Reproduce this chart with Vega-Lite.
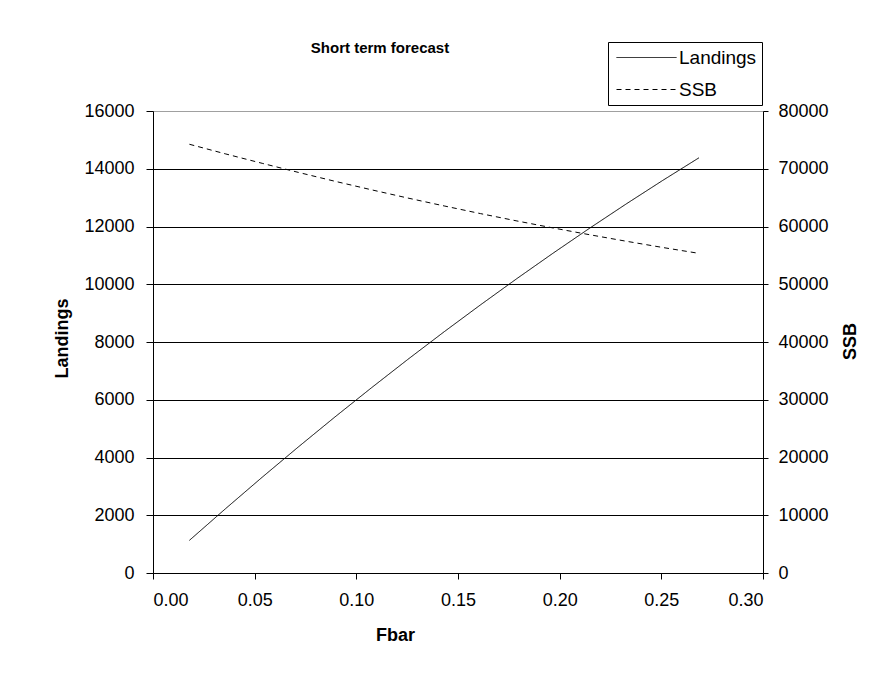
{
  "$schema": "https://vega.github.io/schema/vega-lite/v6.json",
  "width": 610,
  "height": 462,
  "autosize": {"type": "none"},
  "padding": {"left": 153, "top": 111, "right": 114, "bottom": 104},
  "background": "white",
  "title": {
    "text": "Short term forecast",
    "font": "Liberation Sans",
    "fontSize": 15,
    "fontWeight": "bold",
    "color": "black",
    "anchor": "middle",
    "dx": -78,
    "baseline": "bottom",
    "offset": -29
  },
  "data": {
    "values": [
      {"Fbar": 0.0179, "Landings": 1130, "SSB": 74240},
      {"Fbar": 0.0358, "Landings": 2235, "SSB": 72560},
      {"Fbar": 0.0537, "Landings": 3317, "SSB": 70940},
      {"Fbar": 0.0716, "Landings": 4373, "SSB": 69360},
      {"Fbar": 0.0895, "Landings": 5405, "SSB": 67830},
      {"Fbar": 0.1074, "Landings": 6412, "SSB": 66360},
      {"Fbar": 0.1253, "Landings": 7396, "SSB": 64930},
      {"Fbar": 0.1432, "Landings": 8355, "SSB": 63560},
      {"Fbar": 0.1611, "Landings": 9288, "SSB": 62230},
      {"Fbar": 0.179, "Landings": 10198, "SSB": 60960},
      {"Fbar": 0.1969, "Landings": 11083, "SSB": 59740},
      {"Fbar": 0.2148, "Landings": 11944, "SSB": 58570},
      {"Fbar": 0.2327, "Landings": 12780, "SSB": 57450},
      {"Fbar": 0.2506, "Landings": 13592, "SSB": 56370},
      {"Fbar": 0.2685, "Landings": 14379, "SSB": 55350}
    ]
  },
  "encoding": {
    "x": {
      "field": "Fbar",
      "type": "quantitative",
      "scale": {"domain": [0, 0.3], "nice": false, "zero": false},
      "axis": {
        "title": "Fbar",
        "values": [0, 0.05, 0.1, 0.15, 0.2, 0.25, 0.3],
        "format": ".2f",
        "grid": false,
        "tickSize": 6,
        "labelPadding": 12,
        "titleX": 242,
        "titleY": 62,
        "titleAlign": "center",
        "titleBaseline": "middle"
      }
    }
  },
  "layer": [
    {
      "mark": {"type": "line", "color": "black", "strokeWidth": 1},
      "encoding": {
        "y": {
          "field": "Landings",
          "type": "quantitative",
          "scale": {"domain": [0, 16000], "nice": false},
          "axis": {
            "orient": "left",
            "title": "Landings",
            "values": [0, 2000, 4000, 6000, 8000, 10000, 12000, 14000, 16000],
            "format": "d",
            "grid": true,
            "gridColor": "black",
            "gridOpacity": {"condition": {"test": "datum.value >= 16000", "value": 0}, "value": 1},
            "tickSize": 7,
            "labelPadding": 12,
            "titleAngle": 270,
            "titleX": -91,
            "titleY": 227,
            "titleAlign": "center",
            "titleBaseline": "middle"
          }
        },
        "strokeDash": {
          "datum": "Landings",
          "type": "nominal",
          "scale": {"domain": ["Landings", "SSB"], "range": [[1, 0], [5, 4]]},
          "legend": {
            "title": null,
            "orient": "none",
            "legendX": 455,
            "legendY": -69,
            "symbolType": "M-3,0H3",
            "symbolSize": 400,
            "symbolOffset": 23,
            "symbolStrokeColor": "black",
            "symbolStrokeWidth": 1,
            "labelFont": "Liberation Sans",
            "labelFontSize": 19,
            "labelColor": "black",
            "labelOffset": 22,
            "strokeColor": "black",
            "fillColor": "white",
            "padding": 5,
            "rowPadding": 11
          }
        }
      }
    },
    {
      "mark": {"type": "line", "color": "black", "strokeWidth": 1},
      "encoding": {
        "y": {
          "field": "SSB",
          "type": "quantitative",
          "scale": {"domain": [0, 80000], "nice": false},
          "axis": {
            "orient": "right",
            "title": "SSB",
            "values": [0, 10000, 20000, 30000, 40000, 50000, 60000, 70000, 80000],
            "format": "d",
            "grid": false,
            "tickSize": 5,
            "labelPadding": 10,
            "titleAngle": 270,
            "titleX": 87,
            "titleY": 230,
            "titleAlign": "center",
            "titleBaseline": "middle"
          }
        },
        "strokeDash": {"datum": "SSB", "type": "nominal"}
      }
    }
  ],
  "resolve": {"scale": {"y": "independent"}},
  "config": {
    "view": {"stroke": "#a0a0a0", "strokeWidth": 1},
    "axis": {
      "domainColor": "black",
      "domainWidth": 1,
      "tickColor": "black",
      "tickWidth": 1,
      "labelFont": "Liberation Sans",
      "labelFontSize": 18,
      "labelColor": "black",
      "titleFont": "Liberation Sans",
      "titleFontSize": 18,
      "titleFontWeight": "bold",
      "titleColor": "black",
      "gridWidth": 1
    }
  }
}
